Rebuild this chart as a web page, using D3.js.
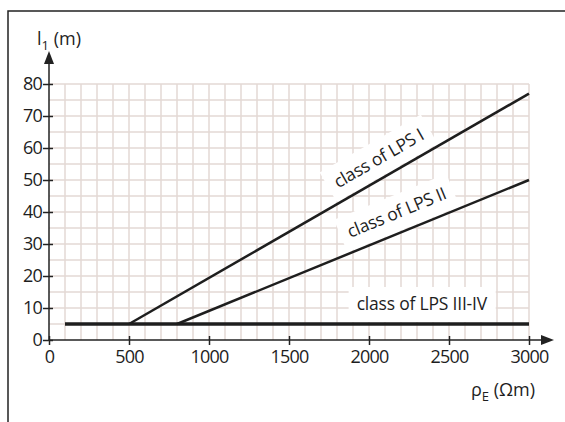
<!DOCTYPE html>
<head>
  <meta charset="utf-8">
  <script src="https://d3js.org/d3.v7.min.js"></script>
  <style>
    body { margin:0; background:#fff; }
    text { font-family: "Open Sans", sans-serif; fill:#1e1e1e; }
    .grid line { stroke:#e3d9d5; stroke-width:1.5px; }
    .curve { fill:none; stroke:#1e1e1e; }
  </style>
</head>
<body>
  <script>
    // data
    var xTicks = [0, 500, 1000, 1500, 2000, 2500, 3000];
    var yTicks = [0, 10, 20, 30, 40, 50, 60, 70, 80];
    var lpsI = [[500, 5], [3000, 77]];
    var lpsII = [[800, 5], [3000, 50]];
    var lpsIII = [[100, 5], [3000, 5]];
    var labels = [
      { text: "class of LPS I", line: lpsI, at: 2120, off: 13 },
      { text: "class of LPS II", line: lpsII, at: 2220, off: 14 },
      { text: "class of LPS III-IV", line: lpsIII, at: 2330, off: 14 }
    ];

    var svg = d3.select("body")
      .append("svg")
      .attr("width", 565)
      .attr("height", 422);

    var x = d3.scaleLinear().domain([0, 3000]).range([49, 529]);
    var y = d3.scaleLinear().domain([0, 80]).range([340, 84]);

    // frame
    svg.append("path")
      .attr("d", "M8,430V11H570")
      .attr("fill", "none")
      .attr("stroke", "#222")
      .attr("stroke-width", 1.5);

    // grid
    var grid = svg.append("g").attr("class", "grid");
    grid.selectAll(".v").data(d3.range(100, 3001, 100)).enter()
      .append("line")
      .attr("x1", d => x(d)).attr("x2", d => x(d))
      .attr("y1", y(0)).attr("y2", y(80));
    grid.selectAll(".h").data(d3.range(5, 81, 5)).enter()
      .append("line")
      .attr("x1", x(0)).attr("x2", x(3000))
      .attr("y1", d => y(d)).attr("y2", d => y(d));

    // label backgrounds + labels (white boxes hide the grid)
    var line = d3.line().x(d => x(d[0])).y(d => y(d[1]));
    labels.forEach(function(l) {
      var p0 = l.line[0], p1 = l.line[1];
      var ang = Math.atan2(y(p1[1]) - y(p0[1]), x(p1[0]) - x(p0[0]));
      var v = p0[1] + (p1[1] - p0[1]) * (l.at - p0[0]) / (p1[0] - p0[0]);
      var g = svg.append("g")
        .attr("transform", "translate(" + x(l.at) + "," + y(v) + ") rotate(" + (ang * 180 / Math.PI) + ")");
      var bg = g.append("rect").attr("fill", "#fff");
      var t = g.append("text")
        .attr("y", -l.off)
        .attr("text-anchor", "middle")
        .style("font-size", "17.5px")
        .style("letter-spacing", "-0.2px")
        .text(l.text);
      var b = t.node().getBBox();
      bg.attr("x", b.x - 8).attr("y", b.y - 4)
        .attr("width", b.width + 16).attr("height", -b.y + 2);
    });

    // lines
    svg.append("path").datum(lpsI).attr("class", "curve").attr("stroke-width", 2.5).attr("d", line);
    svg.append("path").datum(lpsII).attr("class", "curve").attr("stroke-width", 2.5).attr("d", line);
    svg.append("path").datum(lpsIII).attr("class", "curve").attr("stroke-width", 3.5).attr("d", line);

    // axes
    var xAxis = d3.axisBottom(x).tickValues(xTicks).tickSize(5).tickFormat(d3.format("d"));
    var gx = svg.append("g").attr("transform", "translate(0," + y(0) + ")").call(xAxis);
    gx.select(".domain").remove();
    gx.selectAll(".tick line").attr("y1", -4).attr("stroke", "#222").attr("stroke-width", 1.5);
    gx.selectAll(".tick text").attr("y", 10).style("font-size", "18px").style("letter-spacing", "-0.8px")
      .style("font-family", "Open Sans").attr("fill", "#1e1e1e");

    var yAxis = d3.axisLeft(y).tickValues(yTicks).tickSize(6);
    var gy = svg.append("g").attr("transform", "translate(" + x(0) + ",0)").call(yAxis);
    gy.select(".domain").remove();
    gy.selectAll(".tick line").attr("x1", 4).attr("x2", -6).attr("stroke", "#222").attr("stroke-width", 1.5);
    gy.selectAll(".tick text").attr("x", -7).style("font-size", "18px").style("letter-spacing", "-0.8px")
      .style("font-family", "Open Sans").attr("fill", "#1e1e1e");

    svg.append("line").attr("x1", x(0)).attr("x2", 543).attr("y1", y(0)).attr("y2", y(0))
      .attr("stroke", "#222").attr("stroke-width", 1.5);
    svg.append("path").attr("d", "M541," + (y(0) - 5) + "L554," + y(0) + "L541," + (y(0) + 5) + "Z").attr("fill", "#222");
    svg.append("line").attr("x1", x(0)).attr("x2", x(0)).attr("y1", y(0)).attr("y2", 62)
      .attr("stroke", "#222").attr("stroke-width", 1.5);
    svg.append("path").attr("d", "M" + (x(0) - 5) + ",64L" + x(0) + ",51L" + (x(0) + 5) + ",64Z").attr("fill", "#222");

    // axis titles
    var yt = svg.append("text").attr("x", 37).attr("y", 45).style("font-size", "18px");
    yt.append("tspan").text("l");
    yt.append("tspan").attr("dy", 5).style("font-size", "13px").text("1");
    yt.append("tspan").attr("dy", -5).text(" (m)");

    var xt = svg.append("text").attr("x", 471).attr("y", 396).style("font-size", "18px");
    xt.append("tspan").text("ρ");
    xt.append("tspan").attr("dy", 5).style("font-size", "13px").text("E");
    xt.append("tspan").attr("dy", -5).text(" (Ωm)");
  </script>
</body>
